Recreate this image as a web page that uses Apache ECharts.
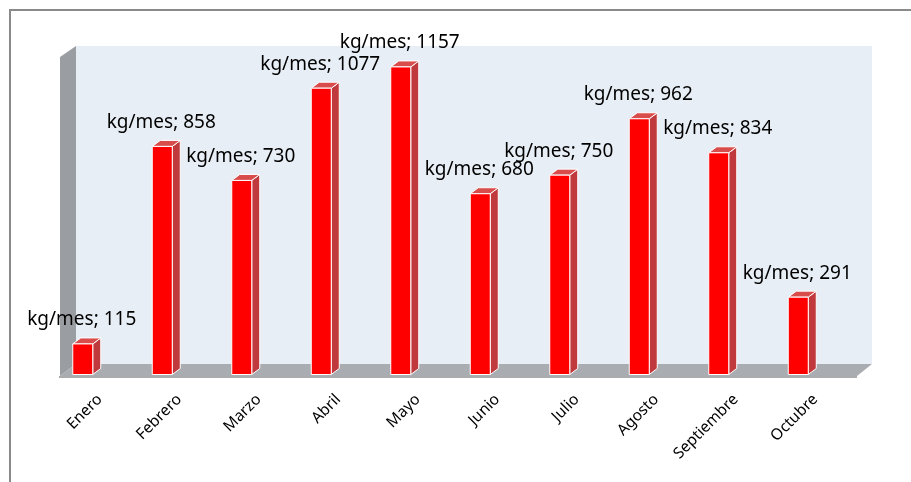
<!DOCTYPE html>
<html>
<head>
<meta charset="utf-8">
<title>kg/mes</title>
<script src="https://cdn.jsdelivr.net/npm/echarts@6/dist/echarts.min.js"></script>
<style>
  html, body { margin: 0; padding: 0; background: #fff; }
  #chart { width: 911px; height: 482px; }
</style>
</head>
<body>
<div id="chart"></div>
<script>
// datos
const meses = ['Enero', 'Febrero', 'Marzo', 'Abril', 'Mayo', 'Junio', 'Julio', 'Agosto', 'Septiembre', 'Octubre']
const kgMes = [115, 858, 730, 1077, 1157, 680, 750, 962, 834, 291]
const etiqueta = 'kg/mes; '

// colores de las caras de la barra
const frente = '#ff0000'
const lado = '#c0393c'
const tapa = '#d94c4c'

const myChart = echarts.init(document.getElementById('chart'))

// barra en 3D: frente, lado y tapa
const renderBarra = (params, api) => {
    const v = api.value(1)
    const top = api.coord([api.value(0), v])
    const base = api.coord([api.value(0), 0])
    const w = 20, dx = 8, dy = 6
    const x0 = top[0] - w / 2, x1 = top[0] + w / 2
    const yt = top[1], yb = base[1]
    const borde = { stroke: '#ffffff', lineWidth: 1 }
    return {
        type: 'group',
        children: [
            { type: 'polygon', shape: { points: [[x1, yt], [x1 + dx, yt - dy], [x1 + dx, yb - dy], [x1, yb]] },
              style: Object.assign({ fill: lado }, borde) },
            { type: 'polygon', shape: { points: [[x0, yt], [x0 + dx, yt - dy], [x1 + dx, yt - dy], [x1, yt]] },
              style: Object.assign({ fill: tapa }, borde) },
            { type: 'rect', shape: { x: x0, y: yt, width: w, height: yb - yt },
              style: Object.assign({ fill: frente }, borde) },
            { type: 'text', x: top[0] - 1, y: yt - 24,
              style: { text: etiqueta + v, textAlign: 'center', textVerticalAlign: 'middle',
                       fontFamily: 'Noto Sans', fontSize: 19, fill: '#000' } }
        ]
    }
}

const option = {
    animation: false,
    backgroundColor: '#ffffff',
    graphic: [
        // marco exterior
        { type: 'polyline', z: 0, shape: { points: [[10, 490], [10, 10], [920, 10]] },
          style: { stroke: '#8a8a8a', lineWidth: 2, fill: null } },
        // pared del fondo
        { type: 'polygon', z: 0, shape: { points: [[76, 46], [872, 46], [872, 364], [76, 364]] },
          style: { fill: '#e8eef5' } },
        // pared izquierda
        { type: 'polygon', z: 0, shape: { points: [[60, 57], [76, 46], [76, 364], [60, 376]] },
          style: { fill: '#9a9da1' } },
        // piso
        { type: 'polygon', z: 0, shape: { points: [[60, 376], [76, 364], [872, 364], [857, 376]] },
          style: { fill: '#a9acb0' } },
        { type: 'line', z: 0, shape: { x1: 59, y1: 377, x2: 857, y2: 377 },
          style: { stroke: '#8e8f92', lineWidth: 1.5 } }
    ],
    grid: [
        { left: 43, width: 795, top: 55.5, height: 319 },
        { left: 60, width: 795, top: 55, height: 321 }
    ],
    xAxis: [
        { type: 'category', gridIndex: 0, data: meses, show: false },
        { type: 'category', gridIndex: 1, data: meses,
          axisLine: { show: false }, axisTick: { show: false },
          axisLabel: { rotate: 45, margin: 21, fontFamily: 'Noto Sans', fontSize: 15.5, color: '#000', interval: 0 } }
    ],
    yAxis: [
        { type: 'value', gridIndex: 0, min: 0, max: 1200, show: false, splitLine: { show: false } },
        { type: 'value', gridIndex: 1, min: 0, max: 1200, show: false, splitLine: { show: false } }
    ],
    series: [
        {
            type: 'custom',
            xAxisIndex: 0,
            yAxisIndex: 0,
            renderItem: renderBarra,
            data: meses.map((m, i) => [i, kgMes[i]])
        }
    ]
}

myChart.setOption(option)
</script>
</body>
</html>
